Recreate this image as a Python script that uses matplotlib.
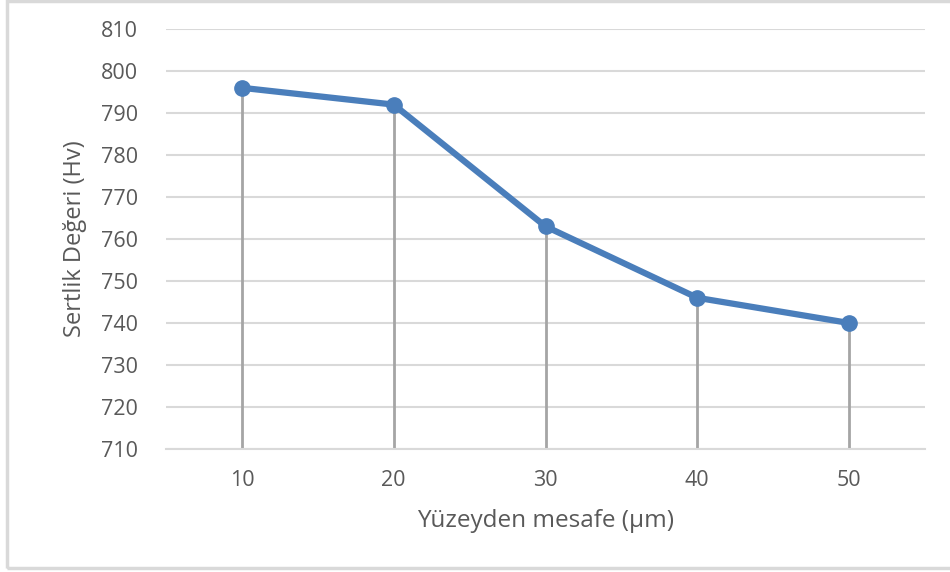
import matplotlib
matplotlib.use("Agg")
import matplotlib.pyplot as plt
from matplotlib.patches import Rectangle

# Surface hardness vs. distance from surface
distances = ["10", "20", "30", "40", "50"]
hardness = [796, 792, 763, 746, 740]
y_ticks = list(range(710, 811, 10))

plt.rcParams["font.family"] = ["Open Sans", "DejaVu Sans"]

fig = plt.figure(figsize=(9.5, 5.72), dpi=100)
ax = fig.add_axes([166 / 950, 1 - 449 / 572, (925 - 166) / 950, (449 - 29) / 572])

x = list(range(len(distances)))
ymin, ymax = 710, 810

# drop lines from each point to the category axis
ax.vlines(x, ymin, hardness, colors="#a5a5a5", linewidth=2, zorder=2)
ax.plot(x, hardness, color="#4a7ebb", linewidth=4.5, marker="o",
        markersize=11, markerfacecolor="#4a7ebb", markeredgecolor="#4a7ebb",
        solid_capstyle="round", zorder=3)

ax.set_xlim(-0.5, len(distances) - 0.5)
ax.set_ylim(ymin, ymax)
ax.set_yticks(y_ticks)
ax.set_xticks(x)
ax.set_xticklabels(distances)
ax.yaxis.grid(True, color="#d9d9d9", linewidth=1.5, zorder=0)
ax.set_axisbelow(True)
for side in ["top", "right", "left"]:
    ax.spines[side].set_visible(False)
ax.spines["bottom"].set_color("#d9d9d9")
ax.spines["bottom"].set_linewidth(1.5)
ax.tick_params(axis="both", length=0, labelsize=15.5, colors="#595959")
ax.tick_params(axis="y", pad=20)
ax.tick_params(axis="x", pad=15)

ax.set_xlabel("Yüzeyden mesafe (μm)", fontsize=17.5, color="#595959", labelpad=13)
ax.set_ylabel("Sertlik Değeri (Hv)", fontsize=17, color="#595959", labelpad=10)

# chart area frame
fig.patches.append(Rectangle((7 / 950, 1 - 568 / 572), 1.2, 567 / 572,
                             transform=fig.transFigure, fill=False,
                             edgecolor="#d9d9d9", linewidth=2.5, zorder=0))

fig.savefig("out.png", dpi=100)
